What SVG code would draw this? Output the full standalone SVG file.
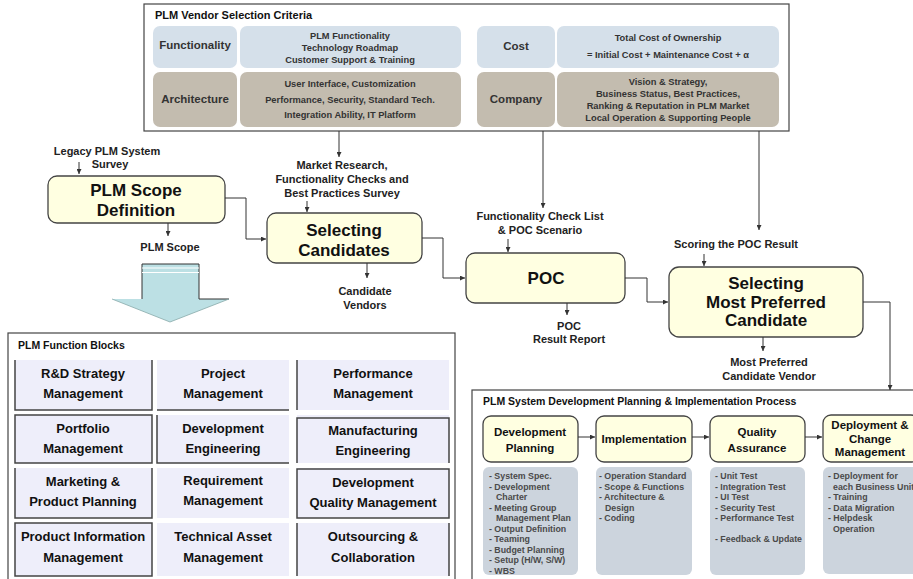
<svg xmlns="http://www.w3.org/2000/svg" width="913" height="579" viewBox="0 0 913 579">
<defs>
<style>
text{font-family:"Liberation Sans",Arial,sans-serif;font-weight:bold;text-anchor:middle}
.lbl{font-size:11px;fill:#222}
.ttl{font-size:11px;fill:#111;text-anchor:start}
.big{font-size:17px;fill:#111}
.crh{font-size:11.5px;fill:#333}
.crt{font-size:9.3px;fill:#333}
.fb{font-size:13px;fill:#111}
.pn{font-size:11.5px;fill:#111}
.li{font-size:8.8px;fill:#4a4a4a;text-anchor:start}
.node{fill:#FFFFE1;stroke:#444;stroke-width:1.3}
.blue{fill:#D5E0EA}
.tan{fill:#C3BCAF}
.gray{fill:#CCD4DD}
.blk{fill:#EEEEFA}
.edge{stroke:#444;stroke-width:1.5;fill:none}
.frame{fill:#fff;stroke:#444;stroke-width:1.2}
.con{fill:none;stroke:#333;stroke-width:1}
</style>
<marker id="ah" viewBox="0 0 6 6" refX="6" refY="3" markerWidth="5" markerHeight="5" orient="auto">
<path d="M0,0 L6,3 L0,6 z" fill="#333"/>
</marker>
</defs>

<g id="criteria">
<rect class="frame" x="144" y="4" width="645" height="127"/>
<text class="ttl" x="155" y="19">PLM Vendor Selection Criteria</text>
<rect class="blue" x="153" y="26" width="84" height="42" rx="7"/>
<rect class="blue" x="240" y="26" width="221" height="42" rx="7"/>
<rect class="blue" x="477" y="26" width="78" height="42" rx="7"/>
<rect class="blue" x="557" y="26" width="222" height="42" rx="7"/>
<rect class="tan" x="153" y="72" width="84" height="55" rx="7"/>
<rect class="tan" x="240" y="72" width="221" height="55" rx="7"/>
<rect class="tan" x="477" y="72" width="78" height="55" rx="7"/>
<rect class="tan" x="557" y="72" width="222" height="55" rx="7"/>
<text class="crh" x="195" y="49">Functionality</text>
<text class="crh" x="195" y="103">Architecture</text>
<text class="crh" x="516" y="50">Cost</text>
<text class="crh" x="516" y="103">Company</text>
<text class="crt" x="350" y="39">PLM Functionality</text>
<text class="crt" x="350" y="51">Technology Roadmap</text>
<text class="crt" x="350" y="63">Customer Support &amp; Training</text>
<text class="crt" x="350" y="87">User Interface, Customization</text>
<text class="crt" x="350" y="103">Performance, Security, Standard Tech.</text>
<text class="crt" x="350" y="118">Integration Ability, IT Platform</text>
<text class="crt" x="668" y="41">Total Cost of Ownership</text>
<text class="crt" x="668" y="58">= Initial Cost + Maintenance Cost + α</text>
<text class="crt" x="668" y="85">Vision &amp; Strategy,</text>
<text class="crt" x="668" y="97">Business Status, Best Practices,</text>
<text class="crt" x="668" y="109">Ranking &amp; Reputation in PLM Market</text>
<text class="crt" x="668" y="121">Local Operation &amp; Supporting People</text>
</g>

<g id="scope">
<rect class="node" x="48" y="176" width="177" height="47" rx="9"/>
<text class="big" x="136" y="196">PLM Scope</text>
<text class="big" x="136" y="216">Definition</text>
</g>

<g id="candidates">
<rect class="node" x="267" y="213" width="155" height="50" rx="9"/>
<text class="big" x="344" y="236">Selecting</text>
<text class="big" x="344" y="256">Candidates</text>
</g>

<g id="poc">
<rect class="node" x="466" y="253" width="159" height="50" rx="9"/>
<text class="big" x="546" y="284">POC</text>
</g>

<g id="preferred">
<rect class="node" x="669" y="267" width="194" height="70" rx="10"/>
<text class="big" x="766" y="289">Selecting</text>
<text class="big" x="766" y="308">Most Preferred</text>
<text class="big" x="766" y="326">Candidate</text>
</g>

<g id="labels">
<text class="lbl" x="107" y="155">Legacy PLM System</text>
<text class="lbl" x="110" y="168">Survey</text>
<text class="lbl" x="170" y="251">PLM Scope</text>
<text class="lbl" x="342" y="169">Market Research,</text>
<text class="lbl" x="342" y="183">Functionality Checks and</text>
<text class="lbl" x="342" y="197">Best Practices Survey</text>
<text class="lbl" x="365" y="295">Candidate</text>
<text class="lbl" x="365" y="309">Vendors</text>
<text class="lbl" x="540" y="220">Functionality Check List</text>
<text class="lbl" x="540" y="234">&amp; POC Scenario</text>
<text class="lbl" x="736" y="248">Scoring the POC Result</text>
<text class="lbl" x="569" y="330">POC</text>
<text class="lbl" x="569" y="343">Result Report</text>
<text class="lbl" x="769" y="366">Most Preferred</text>
<text class="lbl" x="769" y="380">Candidate Vendor</text>
</g>

<g id="bigarrow">
<polygon points="142,264 199,264 199,299 229,299 170,322 112,299 142,299" fill="#BCE0E4"/>
<polyline points="142,299 142,264 199,264 199,299 229,299" fill="none" stroke="#333" stroke-width="1"/>
<polyline points="112,299 170,322 229,299" fill="none" stroke="#8aa" stroke-width="0.8"/>
<line x1="142" y1="268" x2="199" y2="268" stroke="#fff" stroke-width="1.2"/>
<line x1="142" y1="272.5" x2="199" y2="272.5" stroke="#fff" stroke-width="1.2"/>
</g>

<g id="functionBlocks">
<rect class="frame" x="8" y="333" width="447" height="260"/>
<text class="ttl" x="18" y="349" style="font-size:10.5px">PLM Function Blocks</text>
<rect class="blk" x="15" y="360" width="137" height="50"/>
<rect class="blk" x="157" y="360" width="132" height="50"/>
<rect class="blk" x="297" y="360" width="152" height="50"/>
<rect class="blk" x="15" y="415" width="137" height="48"/>
<rect class="blk" x="157" y="415" width="132" height="48"/>
<rect class="blk" x="297" y="415" width="152" height="48"/>
<rect class="blk" x="15" y="468" width="137" height="50"/>
<rect class="blk" x="157" y="468" width="132" height="50"/>
<rect class="blk" x="297" y="468" width="152" height="50"/>
<rect class="blk" x="15" y="523" width="137" height="53"/>
<rect class="blk" x="157" y="523" width="132" height="53"/>
<rect class="blk" x="297" y="523" width="152" height="53"/>
<path class="edge" d="M15,360 V410 H152 V360"/>
<path class="edge" d="M157,410 H289"/>
<path class="edge" d="M297,360 V410"/>
<path class="edge" d="M15,415 H152 V463 H15 Z"/>
<path class="edge" d="M157,415 V463 H289"/>
<path class="edge" d="M297,463 V418 H449 V463"/>
<path class="edge" d="M15,468 V518 H152 V468"/>
<path class="edge" d="M297,469 H449 V518 H297 Z"/>
<path class="edge" d="M15,523 H152 V576 H15 Z"/>
<path class="edge" d="M297,523 V576 M449,523 V576"/>
<text class="fb" x="83" y="378">R&amp;D Strategy</text>
<text class="fb" x="83" y="398">Management</text>
<text class="fb" x="223" y="378">Project</text>
<text class="fb" x="223" y="398">Management</text>
<text class="fb" x="373" y="378">Performance</text>
<text class="fb" x="373" y="398">Management</text>
<text class="fb" x="83" y="433">Portfolio</text>
<text class="fb" x="83" y="453">Management</text>
<text class="fb" x="223" y="433">Development</text>
<text class="fb" x="223" y="453">Engineering</text>
<text class="fb" x="373" y="435">Manufacturing</text>
<text class="fb" x="373" y="455">Engineering</text>
<text class="fb" x="83" y="486">Marketing &amp;</text>
<text class="fb" x="83" y="506">Product Planning</text>
<text class="fb" x="223" y="485">Requirement</text>
<text class="fb" x="223" y="505">Management</text>
<text class="fb" x="373" y="487">Development</text>
<text class="fb" x="373" y="507">Quality Management</text>
<text class="fb" x="83" y="541">Product Information</text>
<text class="fb" x="83" y="562">Management</text>
<text class="fb" x="223" y="541">Technical Asset</text>
<text class="fb" x="223" y="562">Management</text>
<text class="fb" x="373" y="541">Outsourcing &amp;</text>
<text class="fb" x="373" y="562">Collaboration</text>
</g>

<g id="process">
<rect class="frame" x="472" y="390" width="460" height="210"/>
<text class="ttl" x="483" y="405" style="font-size:10.5px">PLM System Development Planning &amp; Implementation Process</text>
<g id="devplanning">
<rect class="node" x="483" y="416" width="95" height="46" rx="8"/>
<text class="pn" x="530" y="436">Development</text>
<text class="pn" x="530" y="452">Planning</text>
<rect class="gray" x="483" y="467" width="95" height="108" rx="6"/>
<text class="li" x="489" y="479">- System Spec.</text>
<text class="li" x="489" y="489.5">- Development</text>
<text class="li" x="496" y="500">Charter</text>
<text class="li" x="489" y="510.5">- Meeting Group</text>
<text class="li" x="496" y="521">Management Plan</text>
<text class="li" x="489" y="531.5">- Output Definition</text>
<text class="li" x="489" y="542">- Teaming</text>
<text class="li" x="489" y="552.5">- Budget Planning</text>
<text class="li" x="489" y="563">- Setup (H/W, S/W)</text>
<text class="li" x="489" y="573.5">- WBS</text>
</g>
<g id="implementation">
<rect class="node" x="596" y="416" width="96" height="46" rx="8"/>
<text class="pn" x="644" y="443">Implementation</text>
<rect class="gray" x="596" y="467" width="96" height="108" rx="6"/>
<text class="li" x="599" y="479">- Operation Standard</text>
<text class="li" x="599" y="489.5">- Scope &amp; Functions</text>
<text class="li" x="599" y="500">- Architecture &amp;</text>
<text class="li" x="605" y="510.5">Design</text>
<text class="li" x="599" y="521">- Coding</text>
</g>
<g id="quality">
<rect class="node" x="710" y="416" width="95" height="46" rx="8"/>
<text class="pn" x="757" y="436">Quality</text>
<text class="pn" x="757" y="452">Assurance</text>
<rect class="gray" x="710" y="467" width="95" height="108" rx="6"/>
<text class="li" x="715" y="479">- Unit Test</text>
<text class="li" x="715" y="489.5">- Integration Test</text>
<text class="li" x="715" y="500">- UI Test</text>
<text class="li" x="715" y="510.5">- Security Test</text>
<text class="li" x="715" y="521">- Performance Test</text>
<text class="li" x="715" y="542">- Feedback &amp; Update</text>
</g>
<g id="deployment">
<rect class="node" x="823" y="415" width="96" height="47" rx="8"/>
<text class="pn" x="870" y="429">Deployment &amp;</text>
<text class="pn" x="870" y="443">Change</text>
<text class="pn" x="870" y="456">Management</text>
<rect class="gray" x="823" y="467" width="96" height="107" rx="6"/>
<text class="li" x="828" y="479">- Deployment for</text>
<text class="li" x="833" y="489.5">each Business Unit</text>
<text class="li" x="828" y="500">- Training</text>
<text class="li" x="828" y="510.5">- Data Migration</text>
<text class="li" x="828" y="521">- Helpdesk</text>
<text class="li" x="833" y="531.5">Operation</text>
</g>
</g>

<g id="connectors">
<line class="con" x1="339" y1="131" x2="339" y2="157" marker-end="url(#ah)"/>
<line class="con" x1="543" y1="131" x2="543" y2="208" marker-end="url(#ah)"/>
<line class="con" x1="759" y1="131" x2="759" y2="230" marker-end="url(#ah)"/>
<line class="con" x1="79" y1="162" x2="79" y2="174" marker-end="url(#ah)"/>
<line class="con" x1="168" y1="223" x2="168" y2="236" marker-end="url(#ah)"/>
<polyline class="con" points="225,198 246,198 246,239 266,239" marker-end="url(#ah)"/>
<line class="con" x1="307" y1="201" x2="307" y2="212" marker-end="url(#ah)"/>
<line class="con" x1="367" y1="263" x2="367" y2="278" marker-end="url(#ah)"/>
<polyline class="con" points="422,238 443,238 443,278 465,278" marker-end="url(#ah)"/>
<line class="con" x1="508" y1="239" x2="508" y2="252" marker-end="url(#ah)"/>
<line class="con" x1="567" y1="303" x2="567" y2="315" marker-end="url(#ah)"/>
<polyline class="con" points="625,278 647,278 647,302 668,302" marker-end="url(#ah)"/>
<line class="con" x1="704" y1="254" x2="704" y2="266" marker-end="url(#ah)"/>
<line class="con" x1="763" y1="337" x2="763" y2="351" marker-end="url(#ah)"/>
<polyline class="con" points="863,302 890,302 890,390" marker-end="url(#ah)"/>
<line class="con" x1="578" y1="437" x2="595" y2="437" marker-end="url(#ah)"/>
<line class="con" x1="692" y1="437" x2="709" y2="437" marker-end="url(#ah)"/>
<line class="con" x1="805" y1="437" x2="822" y2="437" marker-end="url(#ah)"/>
</g>
</svg>
